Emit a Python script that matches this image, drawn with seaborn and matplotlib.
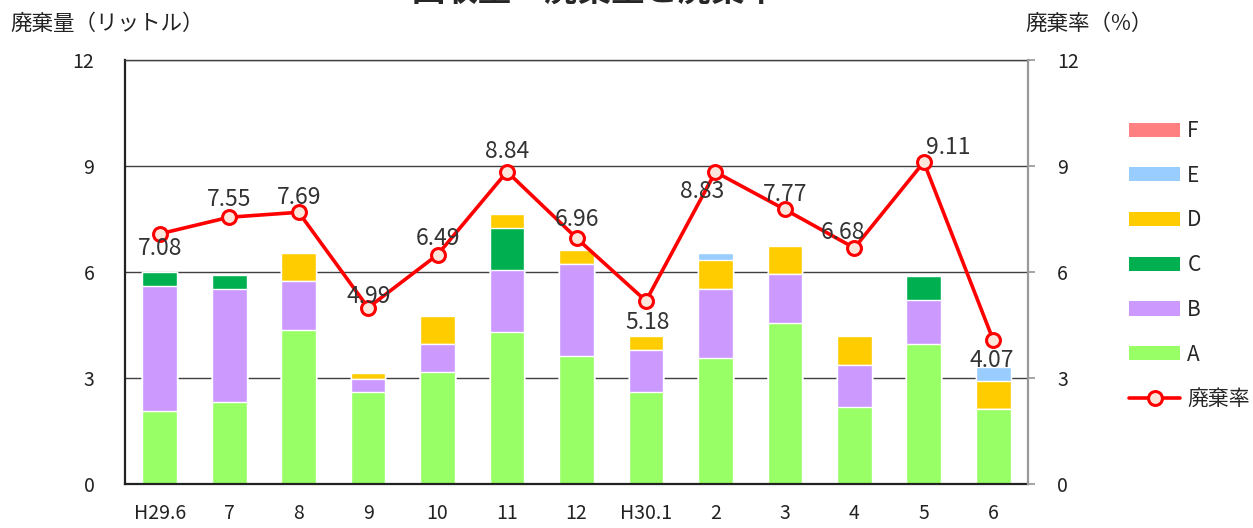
import numpy as np
import pandas as pd
import seaborn as sns
import matplotlib.pyplot as plt
from matplotlib.patches import Patch
from matplotlib.lines import Line2D

# data
months = ["H29.6", "7", "8", "9", "10", "11", "12", "H30.1", "2", "3", "4", "5", "6"]
waste_a = [2.07, 2.33, 4.36, 2.59, 3.17, 4.29, 3.63, 2.59, 3.57, 4.55, 2.19, 3.97, 2.11]
waste_b = [3.53, 3.20, 1.38, 0.39, 0.80, 1.78, 2.59, 1.19, 1.96, 1.38, 1.19, 1.23, 0.00]
waste_c = [0.39, 0.39, 0.00, 0.00, 0.00, 1.17, 0.00, 0.00, 0.00, 0.00, 0.00, 0.69, 0.00]
waste_d = [0.00, 0.00, 0.80, 0.15, 0.79, 0.40, 0.40, 0.40, 0.80, 0.80, 0.80, 0.00, 0.81]
waste_e = [0.00, 0.00, 0.00, 0.00, 0.00, 0.00, 0.00, 0.00, 0.21, 0.00, 0.00, 0.00, 0.38]
waste_f = [0.00, 0.00, 0.00, 0.00, 0.00, 0.00, 0.00, 0.00, 0.00, 0.00, 0.00, 0.00, 0.00]
rate = [7.08, 7.55, 7.69, 4.99, 6.49, 8.84, 6.96, 5.18, 8.83, 7.77, 6.68, 9.11, 4.07]

series = ["A", "B", "C", "D", "E", "F"]
colors = {"A": "#99ff66", "B": "#cc99ff", "C": "#00b050",
          "D": "#ffcc00", "E": "#99ccff", "F": "#ff8080"}
# label offsets in pixels (dx, dy)
label_offsets = [(0, -15), (0, 18), (0, 15), (1, 11), (0, 16), (0, 20), (0, 19),
                 (2, -22), (-13, -19), (0, 15), (-11, 15), (24, 15), (-2, -20)]

df = pd.DataFrame({"month": months, "A": waste_a, "B": waste_b, "C": waste_c,
                   "D": waste_d, "E": waste_e, "F": waste_f})
cum = df[series].cumsum(axis=1)
cum["month"] = df["month"]

sns.set_theme(style="white")
plt.rcParams["font.family"] = ["Noto Sans CJK JP", "DejaVu Sans"]

fig = plt.figure(figsize=(12.53, 5.28), dpi=100)
ax = fig.add_axes([125 / 1253, 44 / 528, 903 / 1253, 424 / 528])

# stacked bars: draw running totals from the top layer down
for s in reversed(series):
    sns.barplot(data=cum, x="month", y=s, order=months, color=colors[s],
                saturation=1, width=0.5, ax=ax, zorder=2)

ax.set_ylim(0, 12)
ax.set_yticks([0, 3, 6, 9, 12])
ax.yaxis.grid(True, color="#404040", linewidth=1)
ax.set_axisbelow(True)
ax.set_xlabel("")
ax.set_ylabel("")
ax.tick_params(axis="y", length=0, pad=22, labelsize=14, colors="#222222")
ax.tick_params(axis="x", which="major", length=0, pad=14, labelsize=14, colors="#222222")
ax.set_xticks(np.arange(-0.5, 13, 1), minor=True)
ax.tick_params(axis="x", which="minor", direction="in", length=6, width=1.2, color="#222222")
for sp in ["left", "bottom"]:
    ax.spines[sp].set_color("#222222")
    ax.spines[sp].set_linewidth(1.6)
ax.spines["top"].set_color("#404040")
ax.spines["top"].set_linewidth(1)
ax.spines["right"].set_visible(False)

ax2 = ax.twinx()
sns.lineplot(x=np.arange(len(months)), y=rate, ax=ax2, color="#ff0000",
             linewidth=2.6, marker="o", markersize=10, markerfacecolor="#fde6dc",
             markeredgecolor="#ff0000", markeredgewidth=2.2, zorder=5)
ax2.set_ylim(0, 12)
ax2.set_yticks([0, 3, 6, 9, 12])
ax2.set_xlim(-0.5, len(months) - 0.5)
ax.set_xlim(-0.5, len(months) - 0.5)
ax2.tick_params(axis="y", direction="out", length=5, color="#999999", pad=16,
                labelsize=14, colors="#222222")
ax2.tick_params(axis="y", color="#999999")
for sp in ["left", "top", "bottom"]:
    ax2.spines[sp].set_visible(False)
ax2.spines["right"].set_color("#999999")
ax2.spines["right"].set_linewidth(1.6)
ax2.set_ylabel("")

for i, (v, off) in enumerate(zip(rate, label_offsets)):
    ax2.annotate(f"{v:.2f}", (i, v), xytext=off, textcoords="offset pixels",
                 ha="center", va="center", fontsize=16.5, color="#333333", zorder=6)

fig.text(10 / 1253, 1 - 24 / 528, "廃棄量（リットル）", fontsize=15.5, color="#222222",
         ha="left", va="center")
fig.text(1025 / 1253, 1 - 24 / 528, "廃棄率（%）", fontsize=15.5, color="#222222",
         ha="left", va="center")
# title sits mostly above the top edge, as in the original crop
fig.text(595 / 1253, 1 + 9 / 528, "回収量・廃棄量と廃棄率", fontsize=24, fontweight="bold",
         ha="center", va="center")

handles = [Patch(facecolor=colors[s], edgecolor="none") for s in reversed(series)]
handles.append(Line2D([], [], color="#ff0000", linewidth=2.6, marker="o", markersize=10,
                      markerfacecolor="#fde6dc", markeredgecolor="#ff0000",
                      markeredgewidth=2.2))
labels = list(reversed(series)) + ["廃棄率"]
fig.legend(handles, labels, loc="upper left", bbox_to_anchor=(1129 / 1253, 1 - 120 / 528),
           frameon=False, fontsize=15, handlelength=2.45, handleheight=0.67,
           handletextpad=0.35, labelspacing=1.09, borderaxespad=0, borderpad=0)

fig.savefig("out.png", dpi=100)
